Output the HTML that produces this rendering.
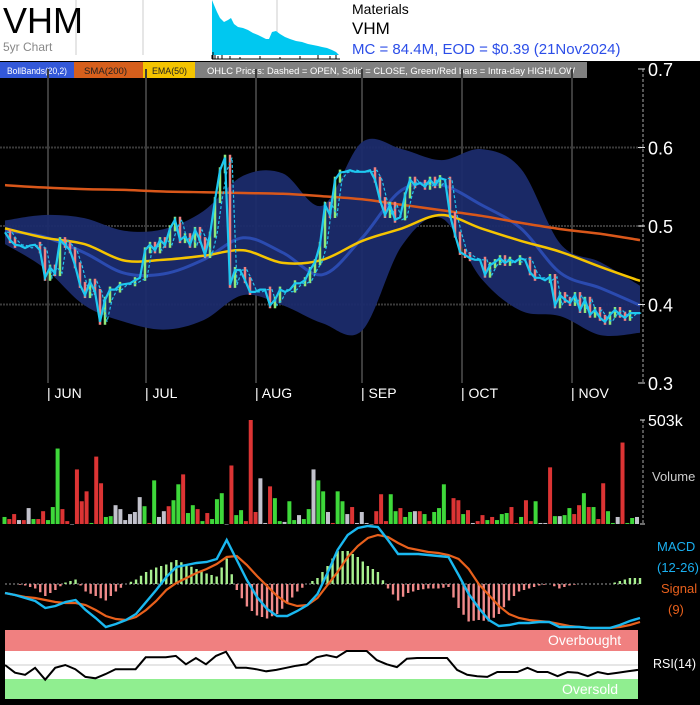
<!DOCTYPE html>
<html><head><meta charset="utf-8">
<style>
html,body{margin:0;padding:0;background:#000;}
body{width:700px;height:700px;overflow:hidden;font-family:"Liberation Sans",Arial,sans-serif;}
svg text{font-family:"Liberation Sans",Arial,sans-serif;}
</style></head>
<body>
<svg id="chart" width="700" height="700" viewBox="0 0 700 700" xmlns="http://www.w3.org/2000/svg">
  <rect x="0" y="0" width="700" height="700" fill="#000"/>
  <g>
    <rect x="0" y="0" width="700" height="61" fill="#fff"/>
    <line x1="76" y1="0" x2="76" y2="55" stroke="#ddd" stroke-width="1.5"/>
    <line x1="143" y1="0" x2="143" y2="55" stroke="#ddd" stroke-width="1.5"/>
    <line x1="277" y1="0" x2="277" y2="55" stroke="#ddd" stroke-width="1.5"/>
    <text x="3" y="33" font-size="36" fill="#000">VHM</text>
    <text x="3" y="51" font-size="12" fill="#888">5yr Chart</text>
    <g>
      <path d="M212,0 L214,5 L217,12 L220,18 L224,22 L228,20 L231,18 L234,24 L238,27 L243,28 L248,30 L253,33 L258,35 L262,37 L266,39 L269,39 L272,32 L276,31 L280,34 L285,37 L290,39 L296,41 L302,42 L308,44 L313,45 L318,46 L322,47 L327,48 L332,50 L336,52 L339,55 L339,55 L212,55 Z" fill="#00c8f0"/>
      <line x1="212" y1="55" x2="212" y2="59" stroke="#000"/>
      <line x1="212" y1="59" x2="340" y2="59" stroke="#000"/>
      <path d="M213,59 V52 M215,59 V55 M218,59 V56 M222,59 V55 M230,59 V56 M240,59 V57 M260,59 V56 M280,59 V57 M300,59 V56 M318,59 V55 M330,59 V56 M336,59 V55" stroke="#000" stroke-width="1"/>
    </g>
    <text x="352" y="14" font-size="14" fill="#000">Materials</text>
    <text x="352" y="34" font-size="17" fill="#000">VHM</text>
    <text x="352" y="54" font-size="15" fill="#2c4ee8">MC = 84.4M, EOD = $0.39 (21Nov2024)</text>
  </g>
  <g>
    <rect x="0" y="62" width="74" height="16" fill="#3358d8"/>
    <text x="7" y="74" font-size="9" fill="#fff" textLength="60" lengthAdjust="spacingAndGlyphs">BollBands(20,2)</text>
    <rect x="74" y="62" width="69" height="16" fill="#d65f1c"/>
    <text x="84" y="74" font-size="9" fill="#222" textLength="43" lengthAdjust="spacingAndGlyphs">SMA(200)</text>
    <rect x="143" y="62" width="52" height="16" fill="#f4c400"/>
    <text x="152" y="74" font-size="9" fill="#222" textLength="35" lengthAdjust="spacingAndGlyphs">EMA(50)</text>
    <rect x="195" y="62" width="392" height="16" fill="#808080"/>
    <text x="207" y="74" font-size="9" fill="#fff" textLength="368" lengthAdjust="spacingAndGlyphs">OHLC Prices: Dashed = OPEN, Solid = CLOSE, Green/Red bars = Intra-day HIGH/LOW</text>
  </g>
  <g id="grid"></g>
  <g id="bands"></g>
  <g id="price"></g>
  <g id="paxis"></g>
  <g id="vol"></g>
  <g id="macd"></g>
  <g id="rsi"></g>
</svg>
<script>
const closes=[.492,.482,.476,.475,.472,.475,.476,.469,.434,.447,.440,.482,.476,.469,.450,.425,.412,.429,.416,.378,.406,.419,.419,.425,.426,.427,.431,.434,.469,.476,.469,.482,.476,.497,.508,.482,.487,.476,.495,.482,.463,.489,.533,.571,.587,.425,.444,.444,.431,.416,.416,.419,.419,.399,.406,.419,.416,.419,.427,.427,.431,.444,.454,.476,.527,.514,.559,.568,.569,.571,.569,.569,.569,.571,.559,.533,.514,.527,.508,.511,.539,.559,.552,.555,.550,.559,.552,.561,.559,.514,.489,.467,.463,.459,.457,.457,.438,.450,.454,.459,.453,.457,.454,.459,.457,.441,.434,.434,.431,.435,.399,.412,.406,.402,.412,.393,.406,.387,.393,.383,.378,.387,.393,.387,.383,.389,.389,.389];
// sparse overlays (17 evenly spaced samples across the period)
const sma200=[.552,.549,.547,.546,.544,.543,.542,.541,.538,.534,.527,.520,.513,.504,.496,.490,.482];
const ema50=[.497,.485,.477,.456,.457,.462,.469,.453,.457,.481,.497,.514,.497,.481,.467,.448,.430];
const bbUpper=[.507,.514,.510,.494,.496,.519,.564,.567,.526,.607,.598,.584,.598,.573,.477,.454,.424];
const bbMid=[.494,.486,.466,.440,.439,.457,.485,.466,.438,.485,.546,.552,.527,.497,.440,.421,.399];
const bbLower=[.477,.446,.399,.378,.368,.380,.412,.399,.376,.367,.475,.510,.433,.392,.385,.361,.364];
const months=["JUN","JUL","AUG","SEP","OCT","NOV"];
const monthStartDay=[8.6,28.2,50.2,71.4,91.4,113.4];
const priceTicks=[0.7,0.6,0.5,0.4,0.3];
const volumes=[34,24,48,19,19,77,24,24,62,19,82,365,72,14,0,264,110,158,5,326,197,34,38,91,72,19,48,58,130,86,5,211,34,62,86,115,192,240,53,91,72,14,53,24,120,149,0,283,43,67,14,503,58,221,5,182,125,14,10,110,19,43,24,72,264,211,158,58,5,158,110,48,82,5,58,5,0,62,144,14,144,62,77,34,58,62,62,48,14,58,77,192,19,125,115,48,67,5,14,43,19,34,19,48,53,82,5,34,115,14,110,5,5,274,38,38,43,77,48,91,149,82,82,24,197,62,5,34,394,5,29,34];
const volDir="grrnrngrrgggrrnrrrgrrggnnnnnngrgnnrggrggrgrgggnrggrrrnnrggnggnggnggnrggnrnnnnrrrggrggnrgrgggrrrgrnrrgrgggrrgrrgnnrgnggrrgrgrrggnrggn".split("");
const macdVals=[-0.9,-1.1,-1.4,-1.7,-2.4,-2.2,-1.8,-1.6,-2.6,-3.4,-4.3,-4.0,-3.6,-3.0,-1.8,-0.6,0.7,1.7,1.9,2.1,2.2,2.5,4.4,2.4,0.4,-1.3,-2.5,-3.2,-3.2,-2.7,-2.1,-1.0,1.1,3.4,4.9,5.6,5.8,5.7,4.4,3.0,3.0,3.0,2.9,2.8,2.7,0.9,-1.0,-2.4,-3.6,-4.2,-4.1,-3.9,-3.9,-3.8,-3.8,-4.3,-4.3,-4.3,-4.4,-4.4,-4.4,-4.1,-3.7,-3.4];
const signalVals=[-0.9,-1.1,-1.3,-1.4,-1.6,-1.8,-1.9,-1.9,-2.1,-2.6,-3.2,-3.5,-3.6,-3.3,-2.6,-1.7,-0.6,0.1,0.6,1.1,1.5,2.0,2.7,2.8,1.9,0.8,-0.2,-1.2,-1.9,-2.2,-2.1,-1.4,-0.1,1.2,2.7,3.8,4.6,4.9,4.7,4.1,3.6,3.4,3.2,3.1,2.9,2.5,1.5,0.0,-1.1,-2.2,-3.0,-3.4,-3.6,-3.7,-3.8,-4.0,-4.2,-4.3,-4.4,-4.4,-4.4,-4.3,-4.1,-3.8];
const rsiVals=[50,39,36,46,29,46,50,44,33,31,37,44,44,44,61,61,61,63,51,60,51,63,69,46,46,44,41,43,46,49,51,61,64,61,70,70,70,57,51,47,59,60,60,60,60,43,36,34,33,40,40,40,46,40,40,34,40,39,34,40,37,39,41,43];

const NS="http://www.w3.org/2000/svg";
function el(tag,attrs,parent){const e=document.createElementNS(NS,tag);for(const k in attrs)e.setAttribute(k,attrs[k]);parent.appendChild(e);return e;}
const X0=5,X1=640;
const xDay=i=>X0+i*(X1-X0)/(closes.length-1);
const xSparse=i=>X0+i*(X1-X0)/(sma200.length-1);
const yP=v=>69+(0.7-v)*785;
const g=id=>document.getElementById(id);
function smooth(pts,start){
  let d=start?'M'+pts[0][0]+','+pts[0][1]:'L'+pts[0][0]+','+pts[0][1];
  for(let i=0;i<pts.length-1;i++){
    const p0=pts[Math.max(0,i-1)],p1=pts[i],p2=pts[i+1],p3=pts[Math.min(pts.length-1,i+2)];
    const c1=[p1[0]+(p2[0]-p0[0])/6,p1[1]+(p2[1]-p0[1])/6];
    const c2=[p2[0]-(p3[0]-p1[0])/6,p2[1]-(p3[1]-p1[1])/6];
    d+=' C'+c1[0].toFixed(1)+','+c1[1].toFixed(1)+' '+c2[0].toFixed(1)+','+c2[1].toFixed(1)+' '+p2[0].toFixed(1)+','+p2[1].toFixed(1);
  }
  return d;
}
const sp=arr=>arr.map((v,i)=>[xSparse(i),yP(v)]);

// grid
const grid=g('grid');
priceTicks.slice(1,4).forEach(t=>{
  const l=el('line',{x1:0,x2:643,y1:yP(t),y2:yP(t),stroke:'#3a3a3a','stroke-width':2,'stroke-dasharray':'2,1'},grid);
  
  
});
months.forEach((m,k)=>{
  const x=xDay(monthStartDay[k]);
  const l=el('line',{x1:x,x2:x,y1:69,y2:383,stroke:'#3c3c3c','stroke-width':2},grid);
  
  
  const t=el('text',{x:x-1,y:398,'font-size':14,fill:'#fff'},grid);
  t.textContent='| '+m;
  
  
});

// bands
const bands=g('bands');
const upPts=sp(bbUpper), loPts=sp(bbLower).reverse();
const fill=el('path',{d:smooth(upPts,true)+' '+smooth(loPts,false)+' Z',fill:'#1b2b6b',opacity:0.95},bands);


const mid=el('path',{d:smooth(sp(bbMid),true),fill:'none',stroke:'#2b4bb0','stroke-width':3},bands);


const sma=el('path',{d:smooth(sp(sma200),true),fill:'none',stroke:'#d9571a','stroke-width':2.5},bands);


const ema=el('path',{d:smooth(sp(ema50),true),fill:'none',stroke:'#f5c400','stroke-width':2.5},bands);



function linePts(arr,xf,yf){return arr.map((v,i)=>xf(i).toFixed(1)+','+yf(v).toFixed(1));}
// price
const pr=g('price');
closes.forEach((c,i)=>{
  if(i===0)return;
  const o=closes[i-1];
  if(Math.abs(c-o)<0.004)return;
  const up=c>o;
  const b=el('line',{x1:xDay(i),x2:xDay(i),y1:yP(Math.max(o,c))-3,y2:yP(Math.min(o,c))+3,stroke:up?'#8ee87a':'#f08080','stroke-width':2.5},pr);
  
  
});
const opens=closes.map((c,i)=>i?closes[i-1]:c);
const op=el('polyline',{points:opens.map((v,i)=>(xDay(i)+2).toFixed(1)+','+yP(v).toFixed(1)).join(' '),fill:'none',stroke:'#22c4ee','stroke-width':1.2,'stroke-dasharray':'3,2'},pr);


const cl=el('polyline',{points:linePts(closes,xDay,yP).join(' '),fill:'none',stroke:'#1ec8f0','stroke-width':2.2},pr);



// price axis
const pa=g('paxis');
el('line',{x1:643,x2:643,y1:69,y2:383,stroke:'#aaa','stroke-width':1,'stroke-dasharray':'3,2'},pa);
priceTicks.forEach(t=>{
  el('line',{x1:638,x2:645,y1:yP(t),y2:yP(t),stroke:'#ddd'},pa);
  const tx=el('text',{x:648,y:yP(t)+7,'font-size':18,fill:'#fff'},pa);
  tx.textContent=String(t);
  
  
});

// volume
const vol=g('vol');
const VB=524,VH=104,VMAX=503;
const xVol=i=>4.5+i*(637-4.5)/(volumes.length-1);
volumes.forEach((v,i)=>{
  const h=v/VMAX*VH;
  const col=volDir[i]==='g'?'#3ed83a':volDir[i]==='r'?'#dc3434':'#c2c2cc';
  const r=el('rect',{x:xVol(i)-2,y:VB-h,width:4,height:Math.max(h,0.5),fill:col},vol);
  
  
});
el('line',{x1:643,x2:643,y1:420,y2:524,stroke:'#aaa','stroke-dasharray':'3,2'},vol);
el('line',{x1:640,x2:645,y1:420,y2:420,stroke:'#ddd'},vol);
el('line',{x1:640,x2:645,y1:524,y2:524,stroke:'#ddd'},vol);
let t=el('text',{x:648,y:426,'font-size':16,fill:'#fff'},vol);t.textContent='503k';


t=el('text',{x:652,y:481,'font-size':13,fill:'#ccc'},vol);t.textContent='Volume';



// macd
const mc=g('macd');
const xM=i=>X0+i*(X1-X0)/(macdVals.length-1);
const yM=v=>584-v*10;
el('line',{x1:5,x2:640,y1:584,y2:584,stroke:'#999','stroke-dasharray':'2,2'},mc);
macdVals.forEach((m,i)=>{
  const h=(m-signalVals[i])*15;
  const b=el('line',{x1:xM(i),x2:xM(i),y1:584,y2:584-h,stroke:h>=0?'#a8f090':'#f08a8a','stroke-width':2.4},mc);
  
  
  if(i<macdVals.length-1){
    const h2=((m+macdVals[i+1])/2-(signalVals[i]+signalVals[i+1])/2)*15;
    const b2=el('line',{x1:xM(i)+5,x2:xM(i)+5,y1:584,y2:584-h2,stroke:h2>=0?'#a8f090':'#f08a8a','stroke-width':2.4},mc);
    
    
  }
});
const sg=el('polyline',{points:linePts(signalVals,xM,yM).join(' '),fill:'none',stroke:'#e8601c','stroke-width':2.2},mc);


const ml=el('polyline',{points:linePts(macdVals,xM,yM).join(' '),fill:'none',stroke:'#1ab8f0','stroke-width':2.4},mc);


[['MACD',657,551,'#1ab0f0'],['(12-26)',657,572,'#1ab0f0'],['Signal',661,593,'#e8601c'],['(9)',668,614,'#e8601c']].forEach(a=>{
  const tt=el('text',{x:a[1],y:a[2],'font-size':13,fill:a[3]},mc);tt.textContent=a[0];
  
  
});

// rsi
const rs=g('rsi');
const yR=v=>679-(v-30)*0.7;
const xR=i=>X0+i*(638-X0)/(rsiVals.length-1);
let r=el('rect',{x:5,y:630,width:633,height:21,fill:'#f08080'},rs);


r=el('rect',{x:5,y:651,width:633,height:28,fill:'#fff'},rs);


r=el('rect',{x:5,y:679,width:633,height:20,fill:'#90ee90'},rs);


el('line',{x1:5,x2:638,y1:yR(50),y2:yR(50),stroke:'#ccc','stroke-width':1},rs);
const rl=el('polyline',{points:linePts(rsiVals,xR,yR).join(' '),fill:'none',stroke:'#000','stroke-width':2},rs);


t=el('text',{x:548,y:645,'font-size':14,fill:'#fff'},rs);t.textContent='Overbought';


t=el('text',{x:562,y:694,'font-size':14,fill:'#fff'},rs);t.textContent='Oversold';


t=el('text',{x:653,y:668,'font-size':13,fill:'#fff','textLength':43,'lengthAdjust':'spacingAndGlyphs'},rs);t.textContent='RSI(14)';


</script>
</body></html>
